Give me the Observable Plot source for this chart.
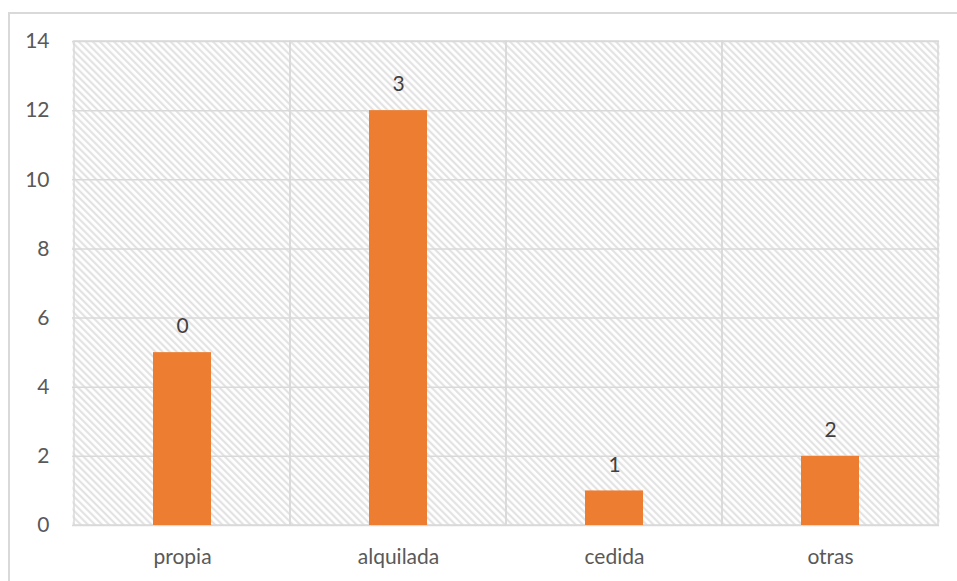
<!DOCTYPE html>
<html>
<head>
<meta charset="utf-8">
<script src="https://cdn.jsdelivr.net/npm/d3@7"></script>
<script src="https://cdn.jsdelivr.net/npm/@observablehq/plot@0.6"></script>
<style>
  html, body { margin: 0; padding: 0; background: #fff; }
  #wrap { position: relative; width: 957px; height: 581px; overflow: hidden; }
  #outer { position: absolute; left: 8px; top: 12px; width: 2000px; height: 2000px;
           border-left: 2px solid #d9d9d9; border-top: 2px solid #d9d9d9; pointer-events: none; }
  #chart { position: absolute; left: 0; top: 0; }
</style>
</head>
<body>
<div id="wrap"><div id="chart"></div><div id="outer"></div></div>
<script>
const categories = ["propia", "alquilada", "cedida", "otras"];
const values = [5, 12, 1, 2];
const labels = ["0", "3", "1", "2"];
const yTicks = [0, 2, 4, 6, 8, 10, 12, 14];

const data = categories.map((c, i) => ({cat: c, value: values[i], label: labels[i]}));

const plot = Plot.plot({
  width: 957,
  height: 581,
  marginLeft: 72,
  marginTop: 41,
  marginRight: 18,
  marginBottom: 56,
  style: {fontFamily: "Lato, 'Open Sans', sans-serif", fontSize: "21px", color: "#595959", background: "#fff"},
  x: {domain: categories, padding: 0, label: null},
  y: {domain: [0, 14], ticks: yTicks, label: null},
  marks: [
    Plot.frame({fill: "url(#hatch)", stroke: "none"}),
    Plot.ruleY(yTicks, {stroke: "#d9d9d9", strokeWidth: 1.5, strokeOpacity: 1}),
    Plot.barY(categories, {x: d => d, y1: 0, y2: 14, fill: "none", stroke: "#d9d9d9", strokeWidth: 1.5}),
    Plot.barY(data, {x: "cat", y: "value", fill: "#ED7D31", insetLeft: 79, insetRight: 79}),
    Plot.text(data, {x: "cat", y: "value", text: "label", dy: -26, fill: "#404040", fontSize: 21, lineAnchor: "middle"}),
    Plot.axisX({tickSize: 0, tickPadding: 24, fill: "#595959", fontSize: 21}),
    Plot.axisY({ticks: yTicks, tickSize: 0, tickPadding: 23, fill: "#595959", fontSize: 21})
  ]
});

const ns = "http://www.w3.org/2000/svg";
const defs = document.createElementNS(ns, "defs");
defs.innerHTML = `<pattern id="hatch" patternUnits="userSpaceOnUse" width="5" height="5" patternTransform="rotate(-45)">
  <rect width="5" height="5" fill="#ffffff"/>
  <line x1="1.2" y1="0" x2="1.2" y2="5" stroke="#e0e0e0" stroke-width="2"/>
</pattern>`;
plot.insertBefore(defs, plot.firstChild);
document.getElementById("chart").appendChild(plot);
</script>
</body>
</html>
